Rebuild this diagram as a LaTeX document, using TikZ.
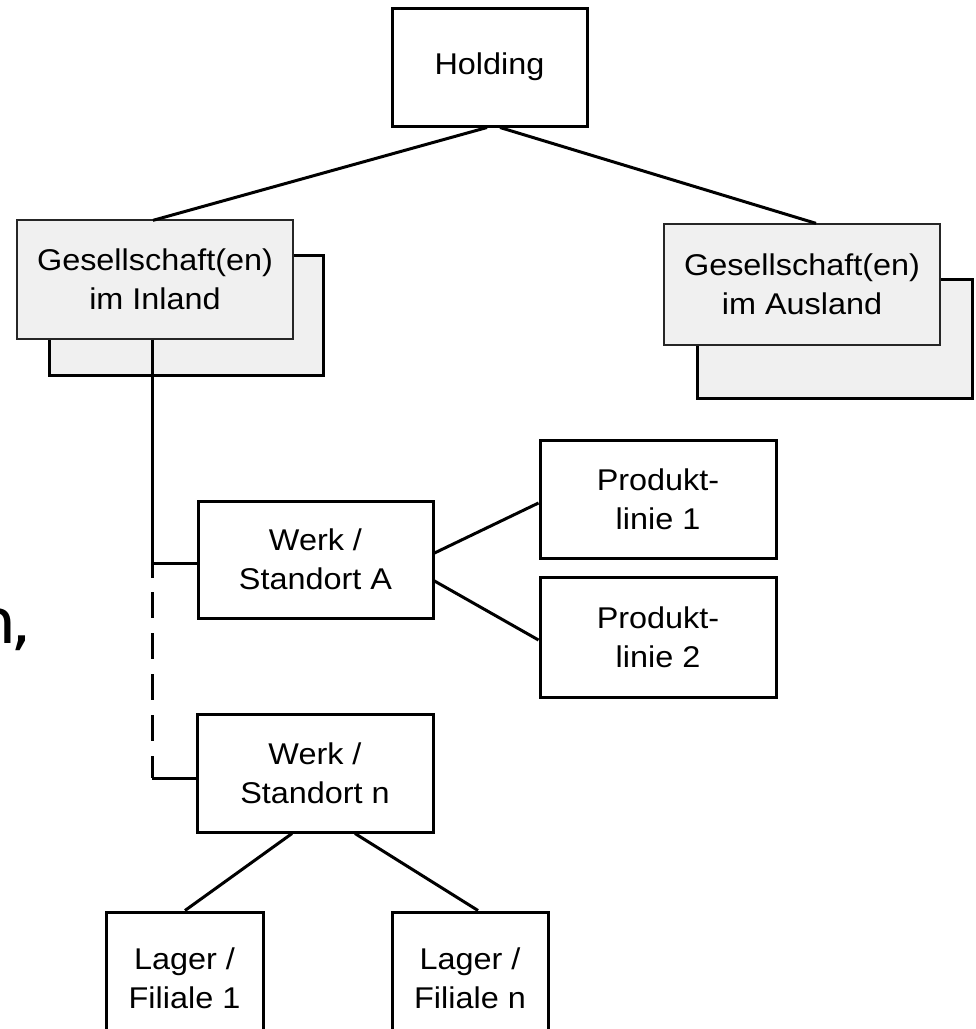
\documentclass[tikz,border=0pt]{standalone}
\usepackage{fontspec}
\setmainfont{Liberation Sans}[FakeStretch=1.08]
\newfontfamily\fragfont{DejaVu Sans}[FakeStretch=1.1]
\usetikzlibrary{calc}
\definecolor{boxgray}{HTML}{F0F0F0}
\begin{document}
\begin{tikzpicture}[x=1pt,y=-1pt,line width=3pt,line join=miter,
  box/.style={draw=black,rectangle,inner sep=0pt,align=center,fill=white,
    font=\fontsize{30}{39}\selectfont},
  frontbox/.style={box,fill=boxgray,draw=black!85,line width=1.3pt},
  backbox/.style={draw=black,rectangle,inner sep=0pt,fill=boxgray,line width=3pt},
  link/.style={draw=black,line width=3pt}]
\useasboundingbox (0,0) rectangle (976,1029);
\clip (0,0) rectangle (976,1029);
\fill[white] (0,0) rectangle (976,1029);

% fragment of text at left edge
\node[font=\fragfont\fontsize{62}{62}\selectfont,anchor=base east,inner sep=0pt] (frag) at (34,643) {n\kern-6pt,};

% top
\node[box,minimum width=195,minimum height=118] (hold) at (489.5,67) {Holding};

% Inland
\node[backbox,minimum width=274,minimum height=120] (inlB) at (186,315) {};
\node[frontbox,minimum width=276,minimum height=119] (inl) at (155,279.5) {Gesellschaft(en)\\im Inland};

% Ausland
\node[backbox,minimum width=275,minimum height=119] (ausB) at (834.5,338.5) {};
\node[frontbox,minimum width=276,minimum height=121] (aus) at (802,284.5) {Gesellschaft(en)\\im Ausland};

% Werke
\node[box,minimum width=235,minimum height=117] (wa) at (315.5,559.5) {Werk /\\Standort A};
\node[box,minimum width=236,minimum height=118] (wn) at (315,773) {Werk /\\Standort n};

% Produktlinien
\node[box,minimum width=236,minimum height=118] (p1) at (658,499) {Produkt-\\linie 1};
\node[box,minimum width=236,minimum height=120] (p2) at (658,637) {Produkt-\\linie 2};

% Lager
\node[box,minimum width=157,minimum height=133] (l1) at (184.5,978.5) {Lager /\\Filiale 1};
\node[box,minimum width=156,minimum height=133] (ln) at (470,978.5) {Lager /\\Filiale n};

% connectors from holding
\draw[link] ($(hold.south)+(-2.5,0)$) -- ($(inl.north)+(-2,1)$);
\draw[link] ($(hold.south)+(10.5,0)$) -- ($(aus.north)+(14,0)$);

% vertical line from Inland
\coordinate (jA) at (152,563);
\coordinate (s1) at (152,578);
\coordinate (d1) at (152,592);
\coordinate (jN) at (152,778);
\draw[link,line cap=butt] ($(inl.south)+(-3,0)$) -- (s1);
\draw[link,line cap=butt,dash pattern=on 26pt off 15pt] (d1) -- (jN);
\draw[link] (jA) -- (jA -| wa.west);
\draw[link] (jN) -- (jN -| wn.west);

% Werk A to Produktlinien
\draw[link] ($(wa.east)+(0,-6.5)$) -- ($(p1.west)+(0,4)$);
\draw[link] ($(wa.east)+(0,21.5)$) -- ($(p2.west)+(0,3)$);

% Werk n to Lager
\draw[link] ($(wn.south)+(-23,0)$) -- ($(l1.north)+(0.5,0)$);
\draw[link] ($(wn.south)+(40,0)$) -- ($(ln.north)+(8,0)$);
\end{tikzpicture}
\end{document}
